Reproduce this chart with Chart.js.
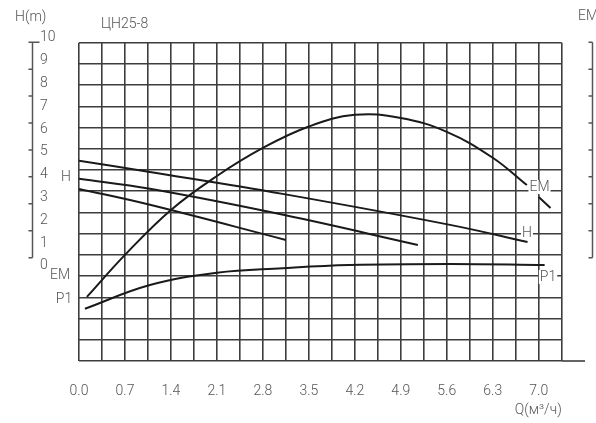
<!DOCTYPE html>
<html>
<head>
<meta charset="utf-8">
<script src="https://cdn.jsdelivr.net/npm/chart.js@4"></script>
<style>
html, body { margin: 0; padding: 0; background: #fff; }
#wrap { width: 596px; height: 423px; position: relative; }
</style>
</head>
<body>
<div id="wrap"><canvas id="pumpChart"></canvas></div>
<script>
// head curves H(Q) for the three speeds, Q in m3/h, H in m
const hiQ = [0, 1.08, 3.10, 5.65, 6.83];
const hiH = [4.61, 4.12, 3.16, 1.80, 1.05];
const midQ = [0, 1.08, 3.11, 5.16];
const midH = [3.82, 3.38, 2.24, 0.92];
const lowQ = [0, 1.08, 3.15];
const lowH = [3.38, 2.68, 1.14];

// EM and P1 curves, in grid rows counted from the bottom edge (no printed scale)
const emQ = [0.12, 0.7, 1.4, 2.1, 2.8, 3.5, 4.2, 4.9, 5.6, 6.3, 6.82, 6.91, 7.0, 7.18];
const emV = [3.02, 5.00, 7.12, 8.72, 10.04, 11.05, 11.60, 11.45, 10.80, 9.58, 8.29, null, 7.73, 7.21];
const p1Q = [0.09, 1.08, 2.10, 3.10, 4.12, 5.65, 7.09];
const p1V = [2.46, 3.58, 4.16, 4.37, 4.52, 4.57, 4.52];

const hTicks = [0, 1, 2, 3, 4, 5, 6, 7, 8, 9, 10];
const axisTicks = [0, 1.25, 2.5, 3.75, 5, 6.25, 7.5, 8.75, 10];

const gridColor = '#3d3d3d';
const textColor = '#555';
const font = { family: 'Roboto', size: 14, weight: '300' };

function pts(xs, ys) {
    return xs.map((x, i) => ({ x: x, y: ys[i] }));
}

function curve(label, xs, ys, axis) {
    return {
        label: label,
        data: pts(xs, ys),
        yAxisID: axis,
        borderColor: '#1a1a1a',
        borderWidth: 2,
        pointRadius: 0,
        tension: 0.4,
        spanGaps: false
    };
}

function text(ctx, str, x, y, align, bg) {
    ctx.font = '300 14px Roboto';
    ctx.textAlign = align;
    ctx.textBaseline = 'middle';
    if (bg) {
        const w = ctx.measureText(str).width;
        const left = align === 'center' ? x - w / 2 : x;
        ctx.fillStyle = '#fff';
        ctx.fillRect(left - 1, y - 7, w + 2, 14);
    }
    ctx.fillStyle = textColor;
    ctx.fillText(str, x, y);
}

const decor = {
    id: 'decor',
    beforeDatasetsDraw(chart) {
        const ctx = chart.ctx;
        ctx.save();
        // curve names on the right, over the grid
        text(ctx, 'EM', 539.5, 187, 'center', true);
        text(ctx, 'H', 527, 233, 'center', true);
        text(ctx, 'P1', 548, 277, 'center', true);
        ctx.restore();
    },
    afterDraw(chart) {
        const { ctx, chartArea: a } = chart;
        const ax = chart.scales.yAx;
        ctx.save();
        ctx.strokeStyle = '#555';
        ctx.lineWidth = 1.5;
        ctx.beginPath();
        // left and right side scales
        [32.5, 592.5].forEach((x, side) => {
            ctx.moveTo(x, ax.getPixelForValue(0));
            ctx.lineTo(x, ax.getPixelForValue(10));
            axisTicks.forEach(v => {
                const y = ax.getPixelForValue(v);
                ctx.moveTo(x - 4, y);
                ctx.lineTo(side === 0 && v === 10 ? x + 7 : x, y);
            });
        });
        ctx.stroke();
        // bottom line runs on past the grid
        ctx.strokeStyle = gridColor;
        ctx.lineWidth = 1.6;
        ctx.beginPath();
        ctx.moveTo(a.right, a.bottom);
        ctx.lineTo(585, a.bottom);
        ctx.stroke();

        text(ctx, 'H(m)', 15, 17, 'left');
        text(ctx, 'ЦН25-8', 101, 24, 'left');
        text(ctx, 'EM', 578, 16, 'left');
        text(ctx, 'H', 66, 177.5, 'center');
        text(ctx, 'EM', 60, 275.5, 'center');
        text(ctx, 'P1', 64, 299.5, 'center');
        ctx.restore();
    }
};

new Chart(document.getElementById('pumpChart'), {
    type: 'line',
    data: {
        datasets: [
            curve('H1', hiQ, hiH, 'y'),
            curve('H2', midQ, midH, 'y'),
            curve('H3', lowQ, lowH, 'y'),
            curve('EM', emQ, emV, 'yGrid'),
            curve('P1', p1Q, p1V, 'yGrid')
        ]
    },
    options: {
        responsive: true,
        maintainAspectRatio: false,
        animation: false,
        devicePixelRatio: 1,
        layout: { padding: { left: 40, right: 34.3, top: 42.7, bottom: 0 } },
        plugins: {
            legend: { display: false },
            tooltip: { enabled: false }
        },
        scales: {
            x: {
                type: 'linear',
                min: 0,
                max: 7.35,
                border: { display: false },
                grid: { color: gridColor, lineWidth: 1.6, drawTicks: false },
                ticks: {
                    stepSize: 0.35,
                    autoSkip: false,
                    maxRotation: 0,
                    padding: 22,
                    font: font,
                    color: textColor,
                    callback: (v, i) => i % 2 === 0 ? v.toFixed(1) : ''
                },
                title: {
                    display: true,
                    text: 'Q(м³/ч)',
                    align: 'end',
                    padding: { top: 0, bottom: 4 },
                    font: font,
                    color: textColor
                },
                afterFit: s => { s.height = 62; }
            },
            yGrid: {
                type: 'linear',
                position: 'left',
                min: 0,
                max: 15,
                border: { display: false },
                grid: { color: gridColor, lineWidth: 1.6, drawTicks: false },
                ticks: { display: false, stepSize: 1 },
                afterFit: s => { s.width = 0; }
            },
            y: {
                type: 'linear',
                position: 'left',
                min: -4.17,
                max: 9.79,
                border: { display: false },
                grid: { display: false },
                ticks: {
                    autoSkip: false,
                    crossAlign: 'far',
                    font: font,
                    color: textColor,
                    callback: v => String(v)
                },
                afterBuildTicks: s => { s.ticks = hTicks.map(v => ({ value: v })); },
                afterFit: s => { s.width = 39; }
            },
            yAx: {
                type: 'linear',
                display: false,
                min: -4.80,
                max: 9.98
            }
        }
    },
    plugins: [decor]
});
</script>
</body>
</html>
